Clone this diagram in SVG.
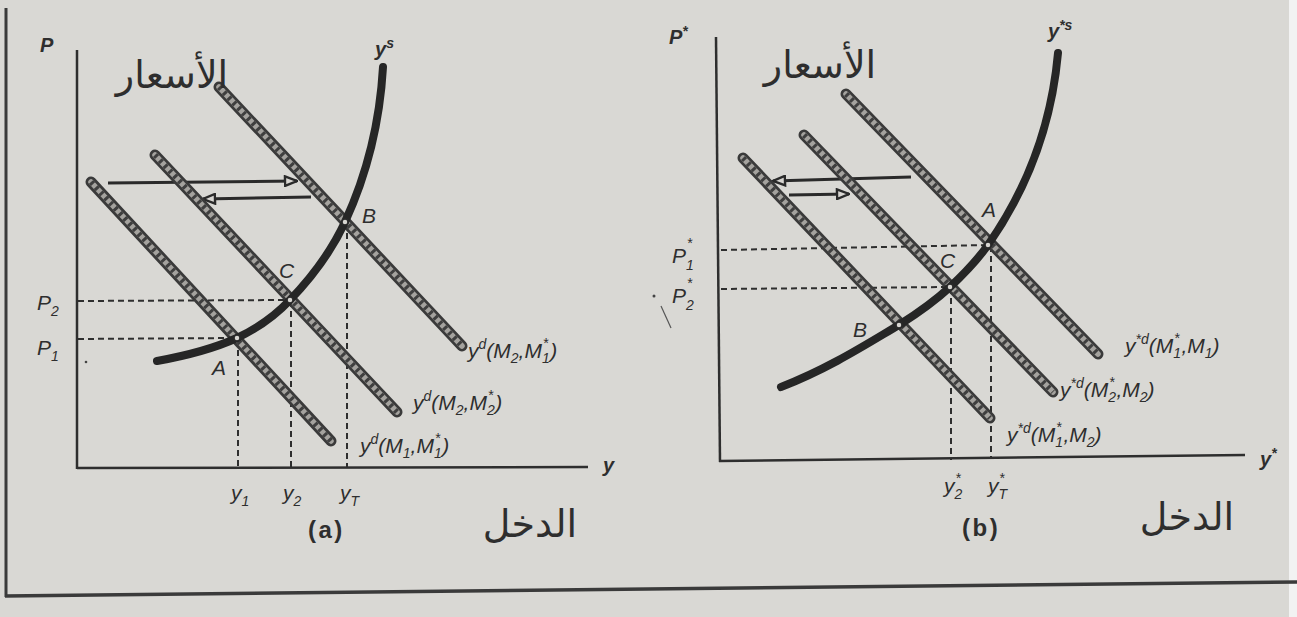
<svg xmlns="http://www.w3.org/2000/svg" width="1297" height="617" viewBox="0 0 1297 617">
<style>
.ax{stroke:#2e2e2e;stroke-width:2.5;fill:none}
.sup{fill:none;stroke:#262626;stroke-width:8;stroke-linecap:round}
.dOut{fill:none;stroke:#3a3a3a;stroke-width:11;stroke-linecap:round}
.dIn{fill:none;stroke:#a4a29e;stroke-width:5.5;stroke-linecap:round}
.dHat{fill:none;stroke:#3f3f3f;stroke-width:5.5;stroke-dasharray:3 4}
.dash{fill:none;stroke:#2e2e2e;stroke-width:2;stroke-dasharray:6 4}
.arr{fill:none;stroke:#2a2a2a;stroke-width:3}
.pt{fill:#d8d6d2;stroke:#2a2a2a;stroke-width:1.5}
text{fill:#2e2e2e;font-family:"Liberation Sans",Arial,sans-serif}
.it{font-style:italic;font-size:21px}
.ib{font-style:italic;font-weight:bold;font-size:20px}
.s{font-size:14px}
.ar{font-family:"DejaVu Sans","Noto Sans",sans-serif;font-size:38px}
.b{font-weight:bold;font-size:24px;letter-spacing:2.5px}
</style>
<defs>
<marker id="ah" viewBox="0 0 12 10" refX="11" refY="5" markerWidth="15" markerHeight="12" markerUnits="userSpaceOnUse" orient="auto">
<path d="M1,1 L11,5 L1,9 Z" fill="#d8d6d2" stroke="#2a2a2a" stroke-width="2"/>
</marker>
</defs>
<rect x="0" y="0" width="1297" height="617" fill="#d9d8d4"/>
<rect x="1289" y="0" width="8" height="617" fill="#f2f2f2"/>
<g id="frame">
<line x1="6" y1="8" x2="6" y2="597" stroke="#3a3a3a" stroke-width="3"/>
<line x1="5" y1="596" x2="1297" y2="582" stroke="#3a3a3a" stroke-width="3.5"/>
</g>

<!-- Panel (a) -->
<g id="axes-a">
<line class="ax" x1="77" y1="50" x2="77" y2="469"/>
<line class="ax" x1="77" y1="468" x2="588" y2="467"/>
<text class="ib" x="40" y="52">P</text>
<text class="ib" x="603" y="472">y</text>
</g>
<g id="connectors">
<line class="dash" x1="78" y1="301" x2="290" y2="300"/>
<line class="dash" x1="78" y1="339" x2="237" y2="338"/>
<line class="dash" x1="238" y1="340" x2="238" y2="467"/>
<line class="dash" x1="291" y1="301" x2="291" y2="467"/>
<line class="dash" x1="347" y1="223" x2="347" y2="467"/>
<line class="arr" x1="108" y1="183" x2="297" y2="181" marker-end="url(#ah)"/>
<line class="arr" x1="311" y1="197" x2="203" y2="199" marker-end="url(#ah)"/>
<line class="dash" x1="721" y1="250" x2="988" y2="245"/>
<line class="dash" x1="721" y1="289" x2="950" y2="287"/>
<line class="dash" x1="951" y1="288" x2="951" y2="460"/>
<line class="dash" x1="991" y1="246" x2="991" y2="458"/>
<line class="arr" x1="911" y1="177" x2="773" y2="181" marker-end="url(#ah)"/>
<line class="arr" x1="789" y1="195" x2="849" y2="194" marker-end="url(#ah)"/>
</g>
<g id="yd-M1-M1s">
<line class="dOut" x1="91" y1="182" x2="331" y2="441"/>
<line class="dIn" x1="91" y1="182" x2="331" y2="441"/>
<line class="dHat" x1="91" y1="182" x2="331" y2="441"/>
<text class="it" x="360" y="453">y<tspan class="s" dy="-9">d</tspan><tspan dy="9">(M</tspan><tspan class="s" dy="5">1</tspan><tspan dy="-5">,M</tspan><tspan class="s" dy="5">1</tspan><tspan class="s" dx="-7" dy="-15">*</tspan><tspan dx="2" dy="10">)</tspan></text>
</g>
<g id="yd-M2-M2s">
<line class="dOut" x1="155" y1="155" x2="397" y2="412"/>
<line class="dIn" x1="155" y1="155" x2="397" y2="412"/>
<line class="dHat" x1="155" y1="155" x2="397" y2="412"/>
<text class="it" x="413" y="410">y<tspan class="s" dy="-9">d</tspan><tspan dy="9">(M</tspan><tspan class="s" dy="5">2</tspan><tspan dy="-5">,M</tspan><tspan class="s" dy="5">2</tspan><tspan class="s" dx="-7" dy="-15">*</tspan><tspan dx="2" dy="10">)</tspan></text>
</g>
<g id="yd-M2-M1s">
<line class="dOut" x1="219" y1="87" x2="462" y2="346"/>
<line class="dIn" x1="219" y1="87" x2="462" y2="346"/>
<line class="dHat" x1="219" y1="87" x2="462" y2="346"/>
<text class="it" x="468" y="358">y<tspan class="s" dy="-9">d</tspan><tspan dy="9">(M</tspan><tspan class="s" dy="5">2</tspan><tspan dy="-5">,M</tspan><tspan class="s" dy="5">1</tspan><tspan class="s" dx="-7" dy="-15">*</tspan><tspan dx="2" dy="10">)</tspan></text>
</g>
<g id="ys-a">
<path class="sup" d="M157,361 C190,355 215,348 237,338 C258,328 275,316 290,300 C315,274 332,250 345,222 C368,172 380,120 383,67"/>
<text class="ib" x="375" y="56">y<tspan class="s" dy="-8">s</tspan></text>
</g>
<g id="points-a">
<circle class="pt" cx="237" cy="338" r="3"/>
<circle class="pt" cx="290" cy="300" r="3"/>
<circle class="pt" cx="345" cy="222" r="3"/>
<text class="it" x="212" y="375">A</text>
<text class="it" x="279" y="278">C</text>
<text class="it" x="362" y="223">B</text>
</g>
<g id="labels-a">
<text class="it" x="37" y="310" font-size="22">P<tspan class="s" dy="6">2</tspan></text>
<text class="it" x="37" y="355" font-size="22">P<tspan class="s" dy="6">1</tspan></text>
<circle cx="86" cy="362" r="1.3" fill="#444"/>
<text class="it" x="231" y="500">y<tspan class="s" dy="6">1</tspan></text>
<text class="it" x="283" y="500">y<tspan class="s" dy="6">2</tspan></text>
<text class="it" x="340" y="500">y<tspan class="s" dy="6">T</tspan></text>
<text class="b" x="308" y="538">(a)</text>
<text class="ar" x="172" y="88" text-anchor="middle">الأسعار</text>
<text class="ar" x="530" y="537" text-anchor="middle">الدخل</text>
</g>

<!-- Panel (b) -->
<g id="axes-b">
<line class="ax" x1="716" y1="37" x2="720" y2="462"/>
<line class="ax" x1="719" y1="461" x2="1245" y2="455"/>
<text class="ib" x="669" y="44">P<tspan class="s" dy="-8">*</tspan></text>
<text class="ib" x="1260" y="466">y<tspan class="s" dy="-8">*</tspan></text>
</g>
<g id="yd-M1s-M2">
<line class="dOut" x1="743" y1="158" x2="990" y2="418"/>
<line class="dIn" x1="743" y1="158" x2="990" y2="418"/>
<line class="dHat" x1="743" y1="158" x2="990" y2="418"/>
<text class="it" x="1007" y="442">y<tspan class="s" dy="-9">*d</tspan><tspan dy="9">(M</tspan><tspan class="s" dy="5">1</tspan><tspan class="s" dx="-7" dy="-15">*</tspan><tspan dx="2" dy="10">,M</tspan><tspan class="s" dy="5">2</tspan><tspan dy="-5">)</tspan></text>
</g>
<g id="yd-M2s-M2">
<line class="dOut" x1="804" y1="135" x2="1053" y2="392"/>
<line class="dIn" x1="804" y1="135" x2="1053" y2="392"/>
<line class="dHat" x1="804" y1="135" x2="1053" y2="392"/>
<text class="it" x="1060" y="397">y<tspan class="s" dy="-9">*d</tspan><tspan dy="9">(M</tspan><tspan class="s" dy="5">2</tspan><tspan class="s" dx="-7" dy="-15">*</tspan><tspan dx="2" dy="10">,M</tspan><tspan class="s" dy="5">2</tspan><tspan dy="-5">)</tspan></text>
</g>
<g id="yd-M1s-M1">
<line class="dOut" x1="846" y1="94" x2="1098" y2="354"/>
<line class="dIn" x1="846" y1="94" x2="1098" y2="354"/>
<line class="dHat" x1="846" y1="94" x2="1098" y2="354"/>
<text class="it" x="1125" y="353">y<tspan class="s" dy="-9">*d</tspan><tspan dy="9">(M</tspan><tspan class="s" dy="5">1</tspan><tspan class="s" dx="-7" dy="-15">*</tspan><tspan dx="2" dy="10">,M</tspan><tspan class="s" dy="5">1</tspan><tspan dy="-5">)</tspan></text>
</g>
<g id="ys-b">
<path class="sup" d="M781,387 C830,368 870,342 899,325 C918,313 935,301 950,287 C965,273 978,259 988,245 C1030,185 1052,120 1058,53"/>
<text class="ib" x="1048" y="38">y<tspan class="s" dy="-8">*s</tspan></text>
</g>
<g id="points-b">
<circle class="pt" cx="899" cy="325" r="3"/>
<circle class="pt" cx="950" cy="287" r="3"/>
<circle class="pt" cx="988" cy="245" r="3"/>
<text class="it" x="982" y="217">A</text>
<text class="it" x="940" y="268">C</text>
<text class="it" x="853" y="337">B</text>
</g>
<g id="labels-b">
<text class="it" x="672" y="263" font-size="22">P<tspan class="s" dy="7">1</tspan><tspan class="s" dx="-7" dy="-22">*</tspan></text>
<text class="it" x="672" y="303" font-size="22">P<tspan class="s" dy="7">2</tspan><tspan class="s" dx="-7" dy="-22">*</tspan></text>
<circle cx="654" cy="296" r="1.5" fill="#444"/>
<line x1="661" y1="306" x2="671" y2="328" stroke="#555" stroke-width="1.2"/>
<text class="it" x="944" y="493">y<tspan class="s" dy="6">2</tspan><tspan class="s" dx="-7" dy="-16">*</tspan></text>
<text class="it" x="988" y="493">y<tspan class="s" dy="6">T</tspan><tspan class="s" dx="-8" dy="-16">*</tspan></text>
<text class="b" x="962" y="536">(b)</text>
<text class="ar" x="820" y="78" text-anchor="middle">الأسعار</text>
<text class="ar" x="1187" y="530" text-anchor="middle">الدخل</text>
</g>
</svg>
